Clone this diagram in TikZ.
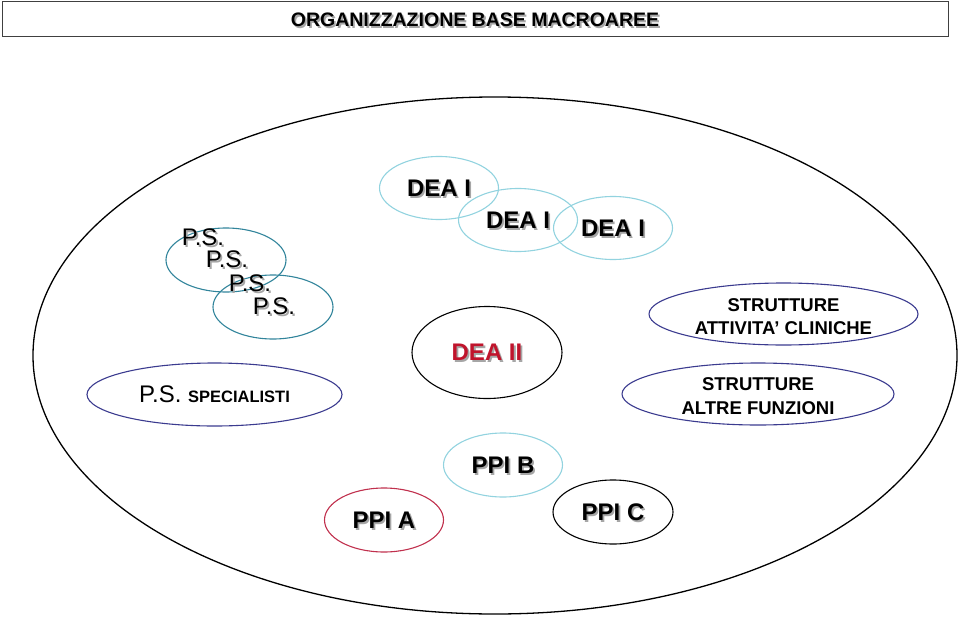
\documentclass[tikz,border=0pt]{standalone}
\usepackage{fontspec}
\setmainfont{Liberation Sans}
\usetikzlibrary{shapes.geometric}

\definecolor{psteal}{HTML}{31849B}
\definecolor{dealight}{HTML}{92D3DF}
\definecolor{strblue}{HTML}{3B3B8F}
\definecolor{deared}{HTML}{C0142C}
\definecolor{ppired}{HTML}{C0304D}

% grey drop shadow behind a text
\newcommand\shtext[1]{\makebox[0pt][l]{\smash{\kern1.8pt\raisebox{-1.8pt}{\color{black!35}#1}}}#1}

\tikzset{
  oval/.style={ellipse, draw, inner sep=0pt, line width=1.1pt},
  bigtxt/.style={font=\fontsize{24}{26}\selectfont\bfseries},
  strtxt/.style={font=\fontsize{18.5}{23.5}\selectfont\bfseries, align=center}
}

\begin{document}
\begin{tikzpicture}[x=1pt,y=-1pt]
    \useasboundingbox (0,0) rectangle (960,618);

    % Title
    \node[draw=black!75, line width=1pt, minimum width=946, minimum height=35, inner sep=0pt]
      (title) at (475,19.5)
      {\fontsize{19.5}{21}\selectfont\bfseries\shtext{ORGANIZZAZIONE BASE MACROAREE}};

    % Macroarea
    \node[oval, line width=1.3pt, minimum width=924, minimum height=517] (area) at (495,355.5) {};

    % Pronto soccorso
    \node[oval, draw=psteal, minimum width=120, minimum height=64] (ps1) at (226,260) {};
    \node[oval, draw=psteal, minimum width=120, minimum height=64] (ps2) at (273,307) {};
    \foreach \x/\y [count=\i] in {203/237, 227/259, 250/283, 274/306} {
      \node[font=\fontsize{24}{26}\selectfont] (pstxt\i) at (\x,\y) {\shtext{P.S.}};
    }
    \node[oval, draw=strblue, minimum width=255, minimum height=63] (psspec) at (214.5,394.5)
      {\fontsize{24}{26}\selectfont P.S. {\fontsize{16.5}{18}\selectfont\bfseries SPECIALISTI}};

    % DEA I (three overlapping)
    \foreach \x/\y [count=\i] in {439/188, 518/220, 613/228} {
      \node[oval, draw=dealight, minimum width=119, minimum height=63, bigtxt]
        (deaI\i) at (\x,\y) {\shtext{DEA I}};
    }

    % DEA II
    \node[oval, minimum width=150, minimum height=92, bigtxt, text=deared]
      (deaII) at (487,352.5) {\shtext{DEA II}};

    % Strutture
    \node[oval, draw=strblue, minimum width=269, minimum height=62] (strcli) at (783.5,314) {};
    \node[strtxt] (strclitxt) at (783.5,316.5) {STRUTTURE\\ATTIVITA’ CLINICHE};
    \node[oval, draw=strblue, minimum width=272, minimum height=62] (stralt) at (758,394) {};
    \node[strtxt] (stralttxt) at (758,396) {STRUTTURE\\ALTRE FUNZIONI};

    % PPI
    \node[oval, draw=ppired, minimum width=119, minimum height=64, bigtxt]
      (ppiA) at (384,520) {\shtext{PPI A}};
    \node[oval, draw=dealight, minimum width=119, minimum height=64, bigtxt]
      (ppiB) at (503,465) {\shtext{PPI B}};
    \node[oval, minimum width=120, minimum height=64, bigtxt]
      (ppiC) at (613,512) {\shtext{PPI C}};
  \end{tikzpicture}
\end{document}
